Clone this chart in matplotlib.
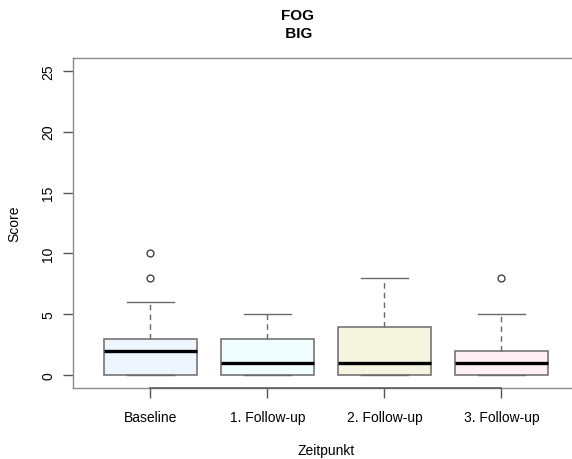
import matplotlib
matplotlib.use("Agg")
import matplotlib.pyplot as plt

plt.rcParams['font.family'] = ['Liberation Sans', 'DejaVu Sans']

# box statistics
groups = ["Baseline", "1. Follow-up", "2. Follow-up", "3. Follow-up"]
whisk_lo = [0, 0, 0, 0]
q1 = [0, 0, 0, 0]
medians = [2, 1, 1, 1]
q3 = [3, 3, 4, 2]
whisk_hi = [6, 5, 8, 5]
outliers = [[8, 10], [], [], [8]]
fills = ["#EEF5FD", "#F0FEFF", "#F5F4DE", "#FEF0F5"]

stats = []
for i, g in enumerate(groups):
    stats.append(dict(label=g, whislo=whisk_lo[i], q1=q1[i], med=medians[i],
                      q3=q3[i], whishi=whisk_hi[i], fliers=outliers[i]))

fig = plt.figure(figsize=(5.72, 4.6), dpi=100)
ax = fig.add_axes([0.128, 0.1543, 1.0115 - 0.128, 0.8717 - 0.1543])

edge = "#6a6a6a"
bp = ax.bxp(stats, positions=[1, 2, 3, 4], widths=0.8, capwidths=0.4,
            patch_artist=True, showfliers=True,
            boxprops=dict(edgecolor=edge, linewidth=1.1),
            whiskerprops=dict(color=edge, linestyle=(0, (4, 3)), linewidth=1.0),
            capprops=dict(color=edge, linewidth=1.0),
            medianprops=dict(color="black", linewidth=2.4, solid_capstyle="butt"),
            flierprops=dict(marker="o", markerfacecolor="none", markeredgecolor="#333333",
                            markersize=5, markeredgewidth=0.9))
for patch, c in zip(bp["boxes"], fills):
    patch.set_facecolor(c)

ax.set_xlim(0.34, 4.66)
ax.set_ylim(-1.04, 26.04)
ax.set_yticks([0, 5, 10, 15, 20, 25])
ax.set_xticks([1, 2, 3, 4])
ax.set_xticklabels(groups)

for s in ax.spines.values():
    s.set_color("#8a8a8a")
    s.set_linewidth(1.0)
# R style axis line between first and last tick
ax.plot([1, 4], [-1.04, -1.04], color="#555555", linewidth=1.1, clip_on=False, zorder=5)

ax.tick_params(axis="both", length=7, color="#555555", labelsize=10, width=1.0)
ax.tick_params(axis="x", pad=9)
ax.tick_params(axis="y", pad=6)
for lab in ax.get_yticklabels():
    lab.set_rotation(90)
    lab.set_va("center")

ax.set_ylabel("Score", fontsize=10, labelpad=14)
fig.text(326 / 572, 1 - 451 / 460, "Zeitpunkt", ha="center", va="center", fontsize=10)
fig.text(297 / 572, 1 - 25 / 460, "FOG\n BIG", ha="center", va="center",
         fontsize=11, fontweight="bold", linespacing=1.35)

fig.savefig("out.png", dpi=100)
